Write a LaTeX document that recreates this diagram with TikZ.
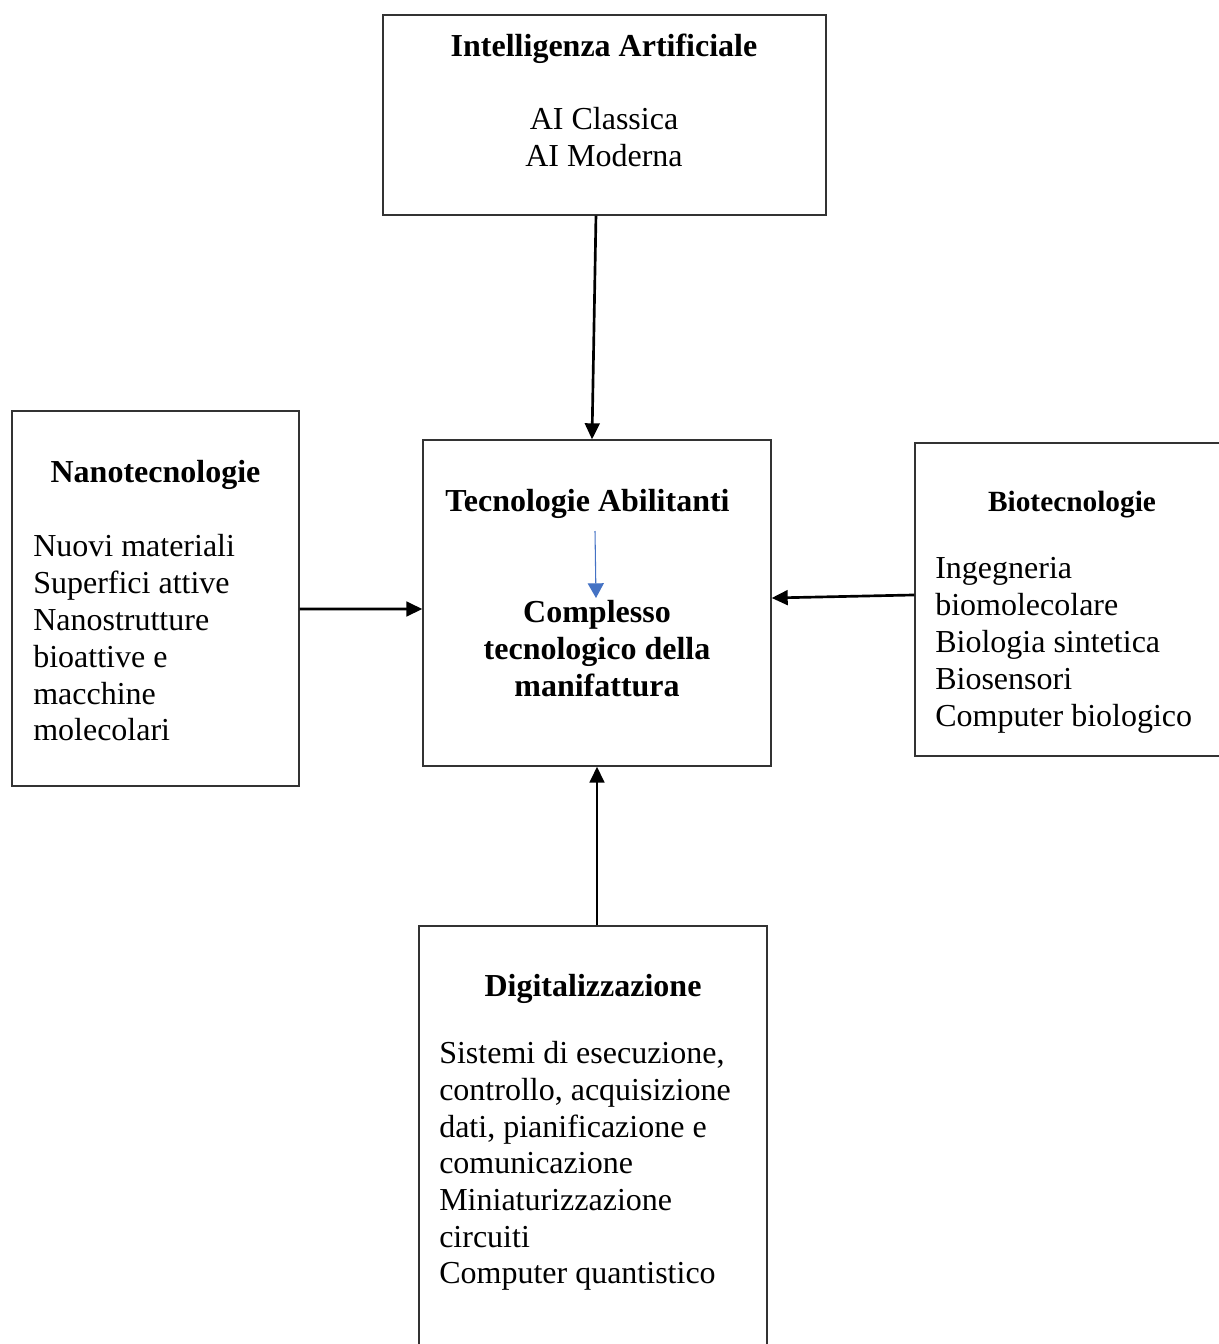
\documentclass[tikz,border=0pt]{standalone}
\usepackage{fontspec}
\setmainfont{Liberation Serif}
\usetikzlibrary{arrows.meta}
\definecolor{linkblue}{HTML}{4472C4}

\begin{document}
\begin{tikzpicture}[x=0.75pt,y=-0.75pt,>={Triangle[length=12pt,width=11pt]},
    box/.style={draw=black!80,line width=1pt,rectangle,inner sep=0pt},
    txt/.style={inner sep=0pt,font=\fontsize{24pt}{27.75pt}\selectfont},
    hd/.style={txt,font=\fontsize{24pt}{27.75pt}\selectfont\bfseries},
    link/.style={->,line width=2pt},
    flow/.style={->,draw=linkblue,line width=0.8pt,>={Triangle[length=11pt,width=12pt]}}]
                \useasboundingbox (0,0) rectangle (1219,1344);
                \clip (0,0) rectangle (1219,1344);
                % boxes
                \node[box,minimum width=332.25pt,minimum height=150pt] (ai) at (604.5,115) {};
                \node[box,minimum width=261pt,minimum height=244.5pt] (centre) at (597,603) {};
                \node[box,minimum width=215.25pt,minimum height=281.25pt] (nano) at (155.5,598.5) {};
                \node[box,minimum width=243.75pt,minimum height=234.75pt] (bio) at (1077.5,599.5) {};
                \node[box,minimum width=261pt,minimum height=333pt] (digit) at (593,1148) {};
                % intelligenza artificiale
                \node[hd,anchor=base] (ai-title) at (604,57) {Intelligenza Artificiale};
                \foreach \t [count=\i] in {AI Classica,AI Moderna}
                    \node[txt,anchor=base] (ai-\i) at (604,{93+37*\i}) {\t};
                % centro
                \node[hd,anchor=base] (centre-title) at (587.5,511) {Tecnologie Abilitanti};
                \foreach \t [count=\i] in {Complesso,tecnologico della,manifattura}
                    \node[hd,anchor=base] (centre-\i) at (597,{585+37*\i}) {\t};
                \coordinate (flow-a) at (595,531);
                \coordinate (flow-b) at (596,598);
                \draw[flow] (flow-a) -- (flow-b);
                % nanotecnologie
                \node[hd,anchor=base] (nano-title) at (155.5,482) {Nanotecnologie};
                \foreach \t [count=\i] in {Nuovi materiali,Superfici attive,Nanostrutture,bioattive e,macchine,molecolari}
                    \node[txt,anchor=base west] (nano-\i) at (33,{520+36.8*\i}) {\t};
                % biotecnologie
                \node[hd,font=\fontsize{22pt}{25.3pt}\selectfont\bfseries,anchor=base] (bio-title) at (1072,511) {Biotecnologie};
                \foreach \t [count=\i] in {Ingegneria,biomolecolare,Biologia sintetica,Biosensori,Computer biologico}
                    \node[txt,anchor=base west] (bio-\i) at (935,{542+36.8*\i}) {\t};
                % digitalizzazione
                \node[hd,anchor=base] (digit-title) at (593,996) {Digitalizzazione};
                \foreach \t [count=\i] in {{Sistemi di esecuzione,},{controllo, acquisizione},{dati, pianificazione e},comunicazione,Miniaturizzazione,circuiti,Computer quantistico}
                    \node[txt,anchor=base west] (digit-\i) at (439,{1027+36.7*\i}) {\t};
                % frecce
                \path[link]
                    ([xshift=-6.4pt]ai.south) edge ([xshift=-3.75pt]centre.north)
                    ([yshift=-7.9pt]nano.east) edge ([yshift=-4.5pt]centre.west)
                    ([yshift=3.4pt]bio.west) edge ([yshift=3.75pt]centre.east)
                    ([xshift=3pt]digit.north) edge (centre.south);
            \end{tikzpicture}
\end{document}
